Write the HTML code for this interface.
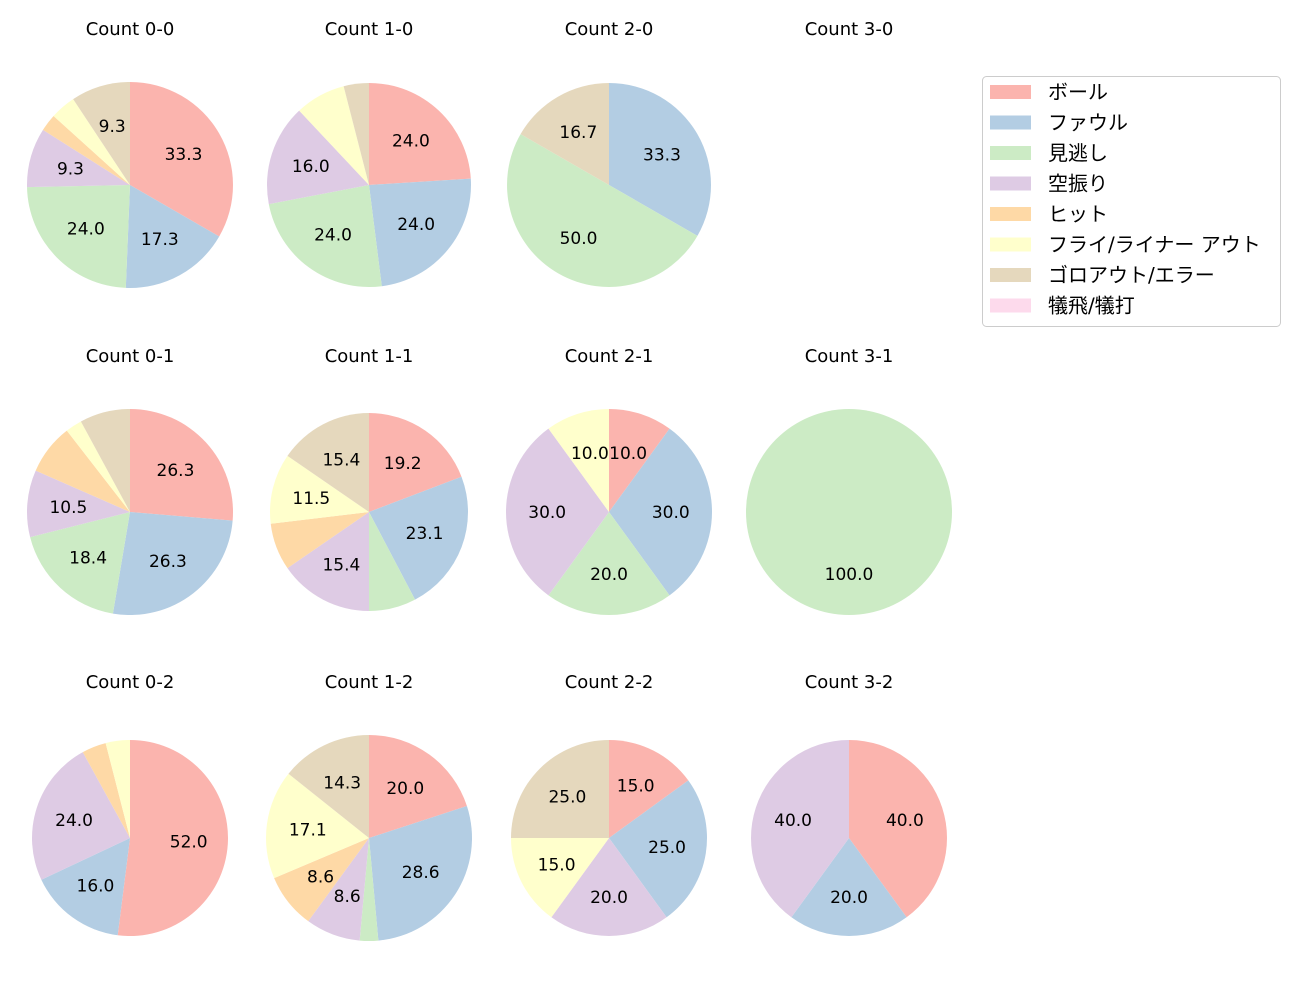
<!DOCTYPE html>
<html><head><meta charset="utf-8">
<style>
body{margin:0;background:#fff;}
svg text{font-family:"DejaVu Sans","Noto Sans CJK JP",sans-serif;fill:#000;}
</style></head>
<body>
<svg id="chart" width="1300" height="1000" xmlns="http://www.w3.org/2000/svg"></svg>
<script>
const categories = ["ボール","ファウル","見逃し","空振り","ヒット","フライ/ライナー アウト","ゴロアウト/エラー","犠飛/犠打"];
const colors = ["#fbb4ae","#b3cde3","#ccebc5","#decbe4","#fed9a6","#ffffcc","#e5d8bd","#fddaec"];
const titles = ["Count 0-0","Count 1-0","Count 2-0","Count 3-0","Count 0-1","Count 1-1","Count 2-1","Count 3-1","Count 0-2","Count 1-2","Count 2-2","Count 3-2"];
const v00 = [33.3,17.3,24.0,9.3,2.7,4.0,9.3,0];
const v10 = [24.0,24.0,24.0,16.0,0,8.0,4.0,0];
const v20 = [0,33.3,50.0,0,0,0,16.7,0];
const v30 = [0,0,0,0,0,0,0,0];
const v01 = [26.3,26.3,18.4,10.5,7.9,2.6,7.9,0];
const v11 = [19.2,23.1,7.7,15.4,7.7,11.5,15.4,0];
const v21 = [10.0,30.0,20.0,30.0,0,10.0,0,0];
const v31 = [0,0,100.0,0,0,0,0,0];
const v02 = [52.0,16.0,0,24.0,4.0,4.0,0,0];
const v12 = [20.0,28.6,2.9,8.6,8.6,17.1,14.3,0];
const v22 = [15.0,25.0,0,20.0,0,15.0,25.0,0];
const v32 = [40.0,20.0,0,40.0,0,0,0,0];
const series = [v00,v10,v20,v30,v01,v11,v21,v31,v02,v12,v22,v32];
const radii = [103,102,102,103,103,99,103,103,98,103,98,98];

const NS="http://www.w3.org/2000/svg";
const svg=document.getElementById('chart');
const colX=[130,369,609,849], rowY=[185,512,838], titleY=[29,356,682];
function mk(t,a){const e=document.createElementNS(NS,t);for(const k in a)e.setAttribute(k,a[k]);return e;}

series.forEach((vals,i)=>{
  const cx=colX[i%4], cy=rowY[Math.floor(i/4)], r=radii[i];
  const g=mk('g',{});
  
  
  svg.appendChild(g);
  const t=mk('text',{x:cx,y:titleY[Math.floor(i/4)]+6,'text-anchor':'middle','font-size':'18'});
  t.textContent=titles[i];
  
  
  g.appendChild(t);
  const total=vals.reduce((a,b)=>a+b,0);
  if(total<=0) return;
  let ang=90;
  vals.forEach((v,k)=>{
    if(v<=0) return;
    const sweep=v/total*360;
    const a0=ang*Math.PI/180, a1=(ang-sweep)*Math.PI/180;
    let el;
    if(sweep>=359.99){
      el=mk('circle',{cx:cx,cy:cy,r:r,fill:colors[k]});
    } else {
      const x0=cx+r*Math.cos(a0), y0=cy-r*Math.sin(a0);
      const x1=cx+r*Math.cos(a1), y1=cy-r*Math.sin(a1);
      el=mk('path',{d:`M${cx},${cy} L${x0},${y0} A${r},${r} 0 ${sweep>180?1:0} 1 ${x1},${y1} Z`,fill:colors[k]});
    }
    
    
    g.appendChild(el);
    const mid=(ang-sweep/2)*Math.PI/180;
    if(v>8.5){
      const lb=mk('text',{x:cx+0.6*r*Math.cos(mid),y:cy-0.6*r*Math.sin(mid)+6,'text-anchor':'middle','font-size':'17'});
      lb.textContent=v.toFixed(1);
      
      
      g.appendChild(lb);
    }
    ang-=sweep;
  });
});

const lg=mk('g',{});


svg.appendChild(lg);
lg.appendChild(mk('rect',{x:982.5,y:76.5,width:298,height:250,rx:4,fill:'#fff',stroke:'#ccc'}));
categories.forEach((c,k)=>{
  const y=92+k*30.5;
  const e=mk('g',{});
  
  
  e.appendChild(mk('rect',{x:990,y:y-7,width:41,height:14,fill:colors[k]}));
  const t=mk('text',{x:1048,y:y+7,'font-size':'20'});
  t.textContent=c;
  e.appendChild(t);
  lg.appendChild(e);
});
</script>
</body></html>
